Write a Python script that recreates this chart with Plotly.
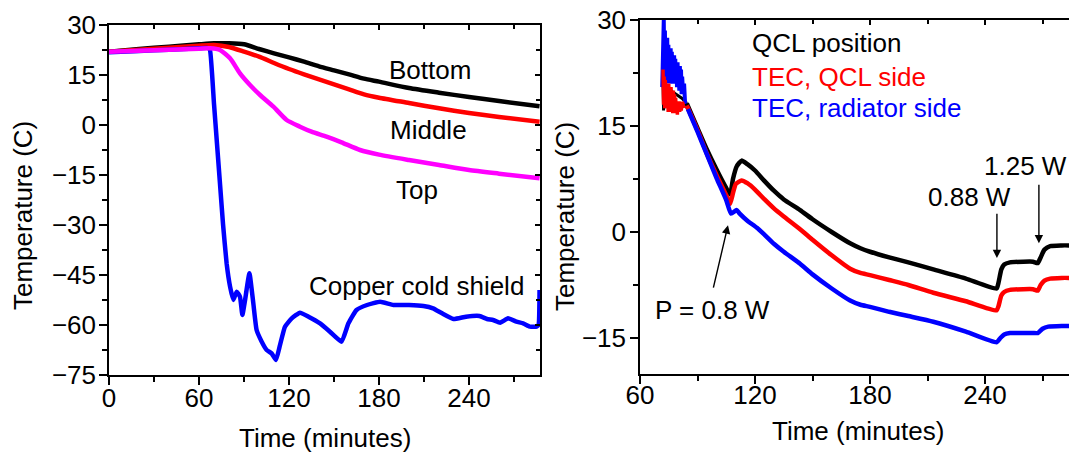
import plotly.graph_objects as go

# ---------------- Left panel data (time in minutes, temperature in C) ----------------
bottom_t = [0, 20, 40, 60, 70, 80, 90, 100, 110, 120, 130, 140, 150, 160, 170, 180, 200, 220, 240, 260, 287]
bottom_T = [22.0, 22.8, 23.5, 24.2, 24.5, 24.5, 24.2, 22.8, 21.5, 20.3, 19.0, 17.6, 16.4, 15.2, 13.9, 13.0, 11.1, 9.7, 8.4, 7.2, 5.6]

middle_t = [0, 20, 40, 60, 70, 80, 90, 100, 110, 120, 130, 140, 150, 160, 170, 180, 200, 220, 240, 260, 287]
middle_T = [22.0, 22.6, 23.2, 23.8, 24.0, 23.4, 22.0, 20.5, 18.6, 16.8, 15.2, 13.7, 12.2, 10.7, 9.2, 8.2, 6.6, 5.0, 3.6, 2.4, 1.0]

top_t = [0, 20, 40, 60, 67.3, 74, 80.7, 87.3, 94, 100.7, 109.6, 118.4, 127.3, 135, 145, 155, 167.3, 180, 200, 220, 240, 260, 287]
top_T = [22.0, 22.3, 22.6, 22.9, 23.0, 22.5, 20.0, 15.5, 12.0, 9.0, 5.5, 1.5, -0.5, -2.0, -3.5, -5.2, -7.5, -8.9, -10.5, -12.0, -13.5, -14.6, -16.0]

copper_t = [0, 20, 40, 60, 66, 67.3, 70, 72, 74, 76, 78.4, 80.7, 82.9, 85.1, 87.3, 88.9, 90.7, 93.6, 96.2,
            98.4, 101.8, 105.1, 108.4, 111.3, 114, 117.3, 121.8, 127.3, 133, 140.7, 147.3, 155, 159.6, 165,
            172, 180.7, 189.6, 200, 209.6, 216, 222, 229.6, 238, 247, 252, 256, 260.7, 266, 271.6, 276,
            280.7, 285, 286.3, 287]
copper_T = [21.8, 22.2, 22.6, 23.0, 23.1, 22.5, 6.3, -5.7, -17.7, -29.7, -41.5, -48.5, -52.5, -50.0, -51.5, -57.0, -52.5, -44.5, -53.5,
            -61.5, -65.0, -67.5, -68.5, -70.5, -66.0, -60.5, -58.0, -56.3, -57.5, -59.5, -62.0, -65.0, -59.5, -55.5,
            -54.0, -53.0, -54.0, -54.0, -54.3, -55.0, -56.5, -58.2, -57.5, -57.3, -58.2, -58.5, -59.3, -58.0, -59.0, -59.5,
            -60.5, -60.5, -60.0, -49.5]

# ---------------- Right panel data ----------------
# noisy start (measured scatter)
qcl_noise_t = [72.0, 72.3, 72.6, 72.9, 73.3, 74, 75, 76, 77, 78, 79, 80, 82, 84.4]
qcl_noise_T = [21.0, 17.2, 21.5, 17.5, 20.5, 19.8, 20.2, 20.0, 19.8, 19.6, 19.4, 19.2, 18.9, 18.2]
tec_qcl_noise_t = [72.0, 72.3, 72.6, 72.9, 73.2, 73.5, 73.8, 74.1, 74.4, 74.7, 75.0, 75.3, 75.6, 75.9, 76.2, 76.5, 76.8,
                   77.1, 77.4, 77.7, 78.0, 78.3, 78.6, 78.9, 79.2, 79.5, 79.8, 80.1, 80.4, 80.7, 81.0, 81.5, 82.0, 83.0, 84.4]
tec_qcl_noise_T = [23.0, 18.0, 22.0, 17.5, 21.5, 18.0, 21.0, 17.5, 20.5, 17.0, 21.0, 17.5, 20.0, 17.0, 20.5, 17.0, 19.5,
                   16.8, 20.0, 17.0, 19.5, 16.8, 19.0, 17.0, 18.5, 16.6, 18.5, 17.0, 18.5, 17.0, 18.3, 17.2, 18.4, 17.8, 17.9]
tec_rad_noise_t = [71.6, 71.9, 72.1, 72.4, 72.7, 73.0, 73.3, 73.6, 73.9, 74.2, 74.5, 74.8, 75.1, 75.4, 75.7, 76.0, 76.3, 76.6,
                   76.9, 77.2, 77.5, 77.8, 78.1, 78.4, 78.7, 79.0, 79.3, 79.6, 79.9, 80.2, 80.5, 80.8, 81.1, 81.4, 81.7,
                   82.0, 82.5, 83.0, 83.5, 85]
tec_rad_noise_T = [20.5, 26.0, 28.0, 30.0, 22.0, 28.5, 21.5, 27.5, 22.0, 27.5, 21.0, 26.5, 22.0, 26.0, 21.0, 26.0, 21.5, 25.5,
                   21.0, 25.0, 21.5, 25.0, 21.0, 24.5, 21.0, 24.0, 20.5, 24.0, 20.5, 23.5, 20.0, 23.5, 20.0, 23.0, 19.5,
                   22.0, 19.5, 21.0, 18.3, 17.4]

# smooth part
qcl_t = [84.4, 90, 95, 100, 105, 107, 108.5, 110.5, 113, 116, 120, 125, 130, 135, 143.5, 150, 160, 169.6, 175,
         180, 190, 200, 213, 230, 246, 247, 248.5, 250, 253, 260, 265, 267.5, 269, 271, 274, 280, 285]
qcl_T = [18.2, 14.7, 11.6, 8.8, 6.2, 5.3, 7.5, 9.3, 10.1, 9.6, 8.7, 7.2, 5.8, 4.6, 3.1, 1.8, 0.0, -1.6, -2.3,
         -2.8, -3.6, -4.3, -5.3, -6.6, -8.0, -7.2, -5.3, -4.6, -4.3, -4.2, -4.2, -4.4, -3.6, -2.5, -2.0, -1.9, -1.9]

tec_qcl_t = [84.4, 90, 95, 100, 105, 107, 108.5, 110, 113, 116, 120, 125, 130, 135, 143.5, 150, 160, 169.6, 175,
             180, 190, 200, 213, 230, 246, 247, 248.5, 250, 253, 260, 265, 267.5, 269, 271, 274, 280, 285]
tec_qcl_T = [17.9, 14.4, 11.0, 8.0, 5.2, 4.0, 5.5, 6.8, 7.3, 6.9, 6.0, 4.6, 3.3, 2.2, 0.4, -1.1, -3.3, -5.2, -5.8,
             -6.1, -6.8, -7.5, -8.6, -9.8, -11.1, -10.5, -9.0, -8.5, -8.2, -8.1, -8.1, -8.3, -7.5, -6.9, -6.6, -6.5, -6.5]

tec_rad_t = [85, 90, 95, 100, 105, 107.5, 110.4, 112, 116, 121, 125, 130, 135, 143.5, 150, 160, 169.6, 175,
             180, 190, 200, 213, 230, 246, 248, 250, 253, 260, 265, 267.5, 270, 273, 280, 285]
tec_rad_T = [17.4, 14.2, 10.9, 7.6, 4.5, 2.6, 3.1, 2.6, 1.6, 0.6, -0.4, -1.7, -2.8, -4.5, -6.0, -8.0, -9.7, -10.3,
             -10.6, -11.3, -11.9, -12.7, -14.1, -15.6, -15.0, -14.5, -14.3, -14.3, -14.3, -14.3, -13.7, -13.4, -13.3, -13.3]

FONT = "Liberation Sans, Arial, sans-serif"
FS = 26
LW = 4.5
BLACK, RED, BLUE, MAGENTA = "#000000", "#FF0000", "#0000FF", "#FF00FF"


def line(x, y, color, xa, ya, shape="spline", smoothing=0.6, width=LW):
    return go.Scatter(x=x, y=y, mode="lines", xaxis=xa, yaxis=ya, hoverinfo="skip",
                      line=dict(color=color, width=width, shape=shape,
                                **({"smoothing": smoothing} if shape == "spline" else {})))


fig = go.Figure()
# left panel
fig.add_trace(line(bottom_t, bottom_T, BLACK, "x", "y"))
fig.add_trace(line(middle_t, middle_T, RED, "x", "y"))
fig.add_trace(line(copper_t, copper_T, BLUE, "x", "y", smoothing=0.4))
fig.add_trace(line(top_t, top_T, MAGENTA, "x", "y"))
# right panel: noisy start
fig.add_trace(line(qcl_noise_t, qcl_noise_T, BLACK, "x2", "y2", shape="linear", width=3))
fig.add_trace(line(tec_rad_noise_t, tec_rad_noise_T, BLUE, "x2", "y2", shape="linear", width=4))
fig.add_trace(line(tec_qcl_noise_t, tec_qcl_noise_T, RED, "x2", "y2", shape="linear", width=3.5))
# right panel: smooth part
fig.add_trace(line(qcl_t, qcl_T, BLACK, "x2", "y2", smoothing=0.5))
fig.add_trace(line(tec_qcl_t, tec_qcl_T, RED, "x2", "y2", smoothing=0.5))
fig.add_trace(line(tec_rad_t, tec_rad_T, BLUE, "x2", "y2", smoothing=0.5))
# empty traces so that the mirrored frame axes are drawn
fig.add_trace(go.Scatter(x=[], y=[], xaxis="x3", yaxis="y", showlegend=False, hoverinfo="skip"))
fig.add_trace(go.Scatter(x=[], y=[], xaxis="x", yaxis="y3", showlegend=False, hoverinfo="skip"))
fig.add_trace(go.Scatter(x=[], y=[], xaxis="x4", yaxis="y2", showlegend=False, hoverinfo="skip"))

W, H = 1069, 454
L_dom_x = [109 / W, 540 / W]
L_dom_y = [1 - 375 / H, 1 - 25 / H]
R_dom_x = [640 / W, 1.0]
R_dom_y = [1 - 374 / H, 1 - 20 / H]

L_xr = [0, 287.3]
L_yr = [-75, 30]
R_xr = [60, 283.8]
R_yr = [-20.1, 30]

tickfont = dict(family=FONT, size=FS, color="black")
axis_common = dict(showline=True, linecolor="black", linewidth=1.5, ticks="outside", ticklen=8,
                   tickwidth=1.5, tickcolor="black", showgrid=False, zeroline=False, tickfont=tickfont,
                   automargin=False)
mirror_common = dict(showline=True, linecolor="black", linewidth=1.5, ticks="inside", ticklen=5,
                     tickwidth=1.5, tickcolor="black", showticklabels=False, showgrid=False,
                     zeroline=False, automargin=False)

fig.update_layout(
    width=W, height=H, autosize=False,
    margin=dict(l=0, r=0, t=0, b=0, autoexpand=False),
    paper_bgcolor="white", plot_bgcolor="white",
    showlegend=False,
    font=dict(family=FONT, size=FS, color="black"),
    xaxis=dict(domain=L_dom_x, anchor="y", range=L_xr, dtick=60, tick0=0, ticklabelstandoff=-9,
               minor=dict(dtick=30, ticks="outside", ticklen=5, tickwidth=1.5, tickcolor="black"),
               **axis_common),
    yaxis=dict(domain=L_dom_y, anchor="x", range=L_yr, dtick=15, tick0=0, ticklabelstandoff=-2,
               minor=dict(dtick=7.5, ticks="outside", ticklen=5, tickwidth=1.5, tickcolor="black"),
               **axis_common),
    xaxis3=dict(overlaying="x", anchor="y", side="top", range=L_xr, dtick=60, tick0=0,
                minor=dict(dtick=30, ticks="inside", ticklen=4, tickwidth=1.5, tickcolor="black"),
                **mirror_common),
    yaxis3=dict(overlaying="y", anchor="x", side="right", range=L_yr, dtick=15, tick0=0,
                minor=dict(dtick=7.5, ticks="inside", ticklen=4, tickwidth=1.5, tickcolor="black"),
                **mirror_common),
    xaxis2=dict(domain=R_dom_x, anchor="y2", range=R_xr, dtick=60, tick0=0, ticklabelstandoff=-11,
                minor=dict(dtick=30, ticks="outside", ticklen=5, tickwidth=1.5, tickcolor="black"),
                **axis_common),
    yaxis2=dict(domain=R_dom_y, anchor="x2", range=R_yr, dtick=15, tick0=0, ticklabelstandoff=-1,
                minor=dict(dtick=7.5, ticks="outside", ticklen=5, tickwidth=1.5, tickcolor="black"),
                **axis_common),
    xaxis4=dict(overlaying="x2", anchor="y2", side="top", range=R_xr, dtick=60, tick0=0,
                minor=dict(dtick=30, ticks="inside", ticklen=4, tickwidth=1.5, tickcolor="black"),
                **mirror_common),
)

txt = dict(family=FONT, size=FS, color="black")
ann = [
    # axis titles
    dict(x=23 / W, y=1 - 216 / H, xref="paper", yref="paper", text="Temperature (C)", textangle=-90,
         showarrow=False, font=txt, xanchor="center", yanchor="middle"),
    dict(x=565 / W, y=1 - 217 / H, xref="paper", yref="paper", text="Temperature (C)", textangle=-90,
         showarrow=False, font=txt, xanchor="center", yanchor="middle"),
    dict(x=324.5 / W, y=1 - 438 / H, xref="paper", yref="paper", text="Time (minutes)",
         showarrow=False, font=txt, xanchor="center", yanchor="middle"),
    dict(x=858 / W, y=1 - 431 / H, xref="paper", yref="paper", text="Time (minutes)",
         showarrow=False, font=txt, xanchor="center", yanchor="middle"),
    # left panel labels
    dict(x=214, y=16.5, xref="x", yref="y", text="Bottom", showarrow=False, font=txt),
    dict(x=212.7, y=-1.5, xref="x", yref="y", text="Middle", showarrow=False, font=txt),
    dict(x=205.3, y=-19.5, xref="x", yref="y", text="Top", showarrow=False, font=txt),
    dict(x=204.7, y=-48.3, xref="x", yref="y", text="Copper cold shield", showarrow=False, font=txt),
    # right panel labels
    dict(x=117.4, y=26.7, xref="x2", yref="y2", text="QCL position", showarrow=False, xanchor="left",
         font=dict(family=FONT, size=FS, color=BLACK)),
    dict(x=117.4, y=21.9, xref="x2", yref="y2", text="TEC, QCL side", showarrow=False, xanchor="left",
         font=dict(family=FONT, size=FS, color=RED)),
    dict(x=117.4, y=17.5, xref="x2", yref="y2", text="TEC, radiator side", showarrow=False, xanchor="left",
         font=dict(family=FONT, size=FS, color=BLUE)),
    dict(x=97.6, y=-11.1, xref="x2", yref="y2", text="P = 0.8 W", showarrow=False, font=txt),
    dict(x=232.1, y=4.9, xref="x2", yref="y2", text="0.88 W", showarrow=False, font=txt),
    dict(x=1068 / W, y=9.4, xref="paper", yref="y2", text="1.25 W", showarrow=False, xanchor="right",
         font=txt, borderpad=0),
    # arrows
    dict(x=105.9, y=0.95, ax=98.1, ay=-8.1, xref="x2", yref="y2", axref="x2", ayref="y2", text="",
         showarrow=True, arrowhead=2, arrowsize=1.2, arrowwidth=1.4, arrowcolor="black", standoff=0, startstandoff=0),
    dict(x=246.2, y=-3.7, ax=246.2, ay=2.8, xref="x2", yref="y2", axref="x2", ayref="y2", text="",
         showarrow=True, arrowhead=2, arrowsize=1.2, arrowwidth=1.4, arrowcolor="black", standoff=0, startstandoff=0),
    dict(x=268.1, y=-1.6, ax=268.1, ay=6.9, xref="x2", yref="y2", axref="x2", ayref="y2", text="",
         showarrow=True, arrowhead=2, arrowsize=1.2, arrowwidth=1.4, arrowcolor="black", standoff=0, startstandoff=0),
]
fig.update_layout(annotations=ann)

fig.write_html("out.html")
